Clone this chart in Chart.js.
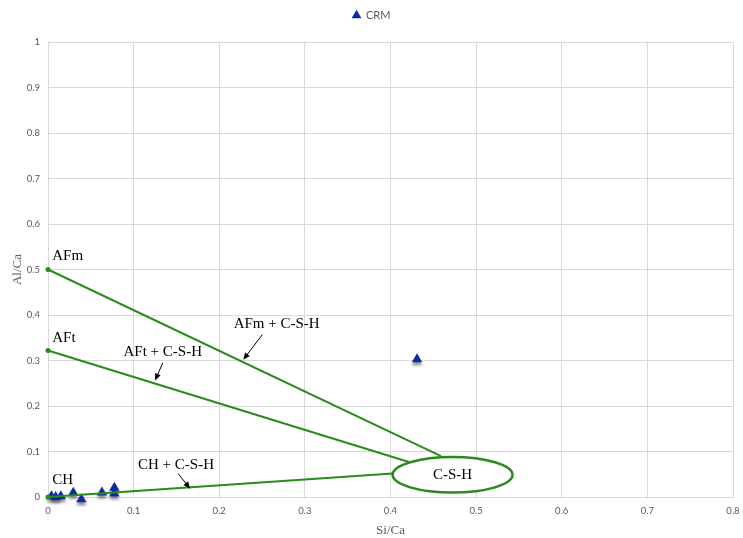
<!DOCTYPE html>
<html>
<head>
<meta charset="utf-8">
<script src="https://cdn.jsdelivr.net/npm/chart.js@4.4.1/dist/chart.umd.min.js"></script>
<style>
  html, body { margin: 0; padding: 0; background: #fff; }
  #wrap { width: 743px; height: 538px; }
</style>
</head>
<body>
<div id="wrap"><canvas id="chart"></canvas></div>
<script>
// === Data ===
const crmSiCa = [0.004, 0.009, 0.015, 0.0295, 0.039, 0.063, 0.0775, 0.0775, 0.431];
const crmAlCa = [0.0015, 0.0, 0.0015, 0.0095, -0.005, 0.010, 0.0205, 0.0075, 0.303];

// tie lines: start at the phase, end at the C-S-H ellipse
const afmLineX = [0, 0.459];
const afmLineY = [0.5, 0.09];
const aftLineX = [0, 0.4215];
const aftLineY = [0.322, 0.077];
const chLineX = [0, 0.4025];
const chLineY = [0, 0.0515];

const xTicks = [0, 0.1, 0.2, 0.3, 0.4, 0.5, 0.6, 0.7, 0.8];
const yTicks = [0, 0.1, 0.2, 0.3, 0.4, 0.5, 0.6, 0.7, 0.8, 0.9, 1];

// C-S-H region: center and half-widths in axis units
const cshCenter = [0.4725, 0.0487];
const cshRadius = [0.070, 0.039];

// labels on the diagram (Si/Ca, Al/Ca, text, alignment)
const noteText = ["AFm", "AFt", "CH", "AFm + C-S-H", "AFt + C-S-H", "CH + C-S-H", "C-S-H"];
const noteX = [0.005, 0.005, 0.005, 0.267, 0.134, 0.1495, 0.4725];
const noteY = [0.530, 0.350, 0.0366, 0.380, 0.318, 0.0695, 0.0487];
const noteAlign = ["left", "left", "left", "center", "center", "center", "center"];

// arrows: tail -> head
const arrowFromX = [0.2503, 0.134, 0.152];
const arrowFromY = [0.357, 0.2947, 0.0513];
const arrowToX = [0.228, 0.125, 0.166];
const arrowToY = [0.3015, 0.256, 0.0184];

const green = "#2a8a1c";
const gridColor = "#d9d9d9";
const tickColor = "#595959";

const toPoints = (xs, ys) => xs.map((x, i) => ({ x: x, y: ys[i] }));

function tieLine(xs, ys) {
  return {
    label: "",
    data: toPoints(xs, ys),
    showLine: true,
    borderColor: green,
    borderWidth: 2,
    backgroundColor: green,
    pointRadius: [2.5, 0],
    pointBorderWidth: 0,
    pointHoverRadius: 0,
    clip: false,
    order: 1,
  };
}

// extra room under the legend
const legendGap = {
  id: "legendGap",
  beforeInit(chart) {
    const fit = chart.legend.fit;
    chart.legend.fit = function () {
      fit.bind(chart.legend)();
      this.height += 11;
    };
  },
};

// shadow under the triangles
const shadowPlugin = {
  id: "shadow",
  beforeDatasetDraw(chart, args) {
    if (args.index !== 0) return;
    const ctx = chart.ctx;
    ctx.save();
    ctx.shadowColor = "rgba(0,0,0,0.45)";
    ctx.shadowBlur = 3;
    ctx.shadowOffsetY = 3;
  },
  afterDatasetDraw(chart, args) {
    if (args.index !== 0) return;
    chart.ctx.restore();
  },
};

// ellipse, arrows and labels
const notesPlugin = {
  id: "notes",
  afterDatasetsDraw(chart) {
    const ctx = chart.ctx;
    const xs = chart.scales.x;
    const ys = chart.scales.y;
    ctx.save();

    const cx = xs.getPixelForValue(cshCenter[0]);
    const cy = ys.getPixelForValue(cshCenter[1]);
    const rx = xs.getPixelForValue(cshCenter[0] + cshRadius[0]) - cx;
    const ry = cy - ys.getPixelForValue(cshCenter[1] + cshRadius[1]);
    ctx.beginPath();
    ctx.ellipse(cx, cy, rx, ry, 0, 0, Math.PI * 2);
    ctx.fillStyle = "#fff";
    ctx.fill();
    ctx.lineWidth = 2.5;
    ctx.strokeStyle = green;
    ctx.stroke();

    ctx.strokeStyle = "#000";
    ctx.fillStyle = "#000";
    ctx.lineWidth = 1;
    arrowFromX.forEach((fx, i) => {
      const x1 = xs.getPixelForValue(fx);
      const y1 = ys.getPixelForValue(arrowFromY[i]);
      const x2 = xs.getPixelForValue(arrowToX[i]);
      const y2 = ys.getPixelForValue(arrowToY[i]);
      const a = Math.atan2(y2 - y1, x2 - x1);
      ctx.beginPath();
      ctx.moveTo(x1, y1);
      ctx.lineTo(x2 - 4 * Math.cos(a), y2 - 4 * Math.sin(a));
      ctx.stroke();
      ctx.beginPath();
      ctx.moveTo(x2, y2);
      ctx.lineTo(x2 - 7 * Math.cos(a) + 3 * Math.sin(a), y2 - 7 * Math.sin(a) - 3 * Math.cos(a));
      ctx.lineTo(x2 - 7 * Math.cos(a) - 3 * Math.sin(a), y2 - 7 * Math.sin(a) + 3 * Math.cos(a));
      ctx.closePath();
      ctx.fill();
    });

    ctx.font = "15px 'Liberation Serif', 'Times New Roman', serif";
    ctx.textBaseline = "middle";
    noteText.forEach((t, i) => {
      ctx.textAlign = noteAlign[i];
      ctx.fillText(t, xs.getPixelForValue(noteX[i]), ys.getPixelForValue(noteY[i]));
    });
    ctx.restore();
  },
};

const ctx = document.getElementById("chart").getContext("2d");
new Chart(ctx, {
  type: "scatter",
  data: {
    datasets: [
      {
        label: "CRM",
        data: toPoints(crmSiCa, crmAlCa),
        pointStyle: "triangle",
        pointRadius: 6,
        pointHoverRadius: 6,
        backgroundColor: "#0a2aa6",
        borderColor: "#0a2aa6",
        borderWidth: 0,
        clip: false,
        order: 2,
      },
      tieLine(afmLineX, afmLineY),
      tieLine(aftLineX, aftLineY),
      tieLine(chLineX, chLineY),
    ],
  },
  options: {
    responsive: true,
    maintainAspectRatio: false,
    animation: false,
    layout: { padding: { left: 0, right: 0, top: 0, bottom: 0 } },
    plugins: {
      tooltip: { enabled: false },
      legend: {
        position: "top",
        labels: {
          filter: (item) => item.text === "CRM",
          usePointStyle: true,
          pointStyle: "triangle",
          boxWidth: 8,
          boxHeight: 8,
          padding: 10,
          color: tickColor,
          font: { family: "Lato", size: 11 },
        },
      },
    },
    scales: {
      x: {
        type: "linear",
        min: 0,
        max: 0.8,
        afterBuildTicks: (s) => { s.ticks = xTicks.map((v) => ({ value: v })); },
        afterFit: (s) => { s.height = 41; s.paddingLeft = 0; s.paddingRight = 10; },
        grid: { color: gridColor, drawTicks: false },
        border: { color: gridColor },
        ticks: { color: tickColor, padding: 8, font: { family: "Lato", size: 9.5 }, callback: (v) => String(v) },
        title: {
          display: true,
          text: "Si/Ca",
          color: tickColor,
          padding: { top: 0, bottom: 0 },
          font: { family: "'Liberation Serif', serif", size: 13 },
        },
      },
      y: {
        type: "linear",
        min: 0,
        max: 1,
        afterBuildTicks: (s) => { s.ticks = yTicks.map((v) => ({ value: v })); },
        afterFit: (s) => { s.width = 48; },
        grid: { color: gridColor, drawTicks: false },
        border: { color: gridColor },
        ticks: { color: tickColor, padding: 8, font: { family: "Lato", size: 9.5 }, callback: (v) => String(v) },
        title: {
          display: true,
          text: "Al/Ca",
          color: tickColor,
          padding: { top: 10, bottom: 4 },
          font: { family: "'Liberation Serif', serif", size: 13 },
        },
      },
    },
  },
  plugins: [legendGap, shadowPlugin, notesPlugin],
});
</script>
</body>
</html>
